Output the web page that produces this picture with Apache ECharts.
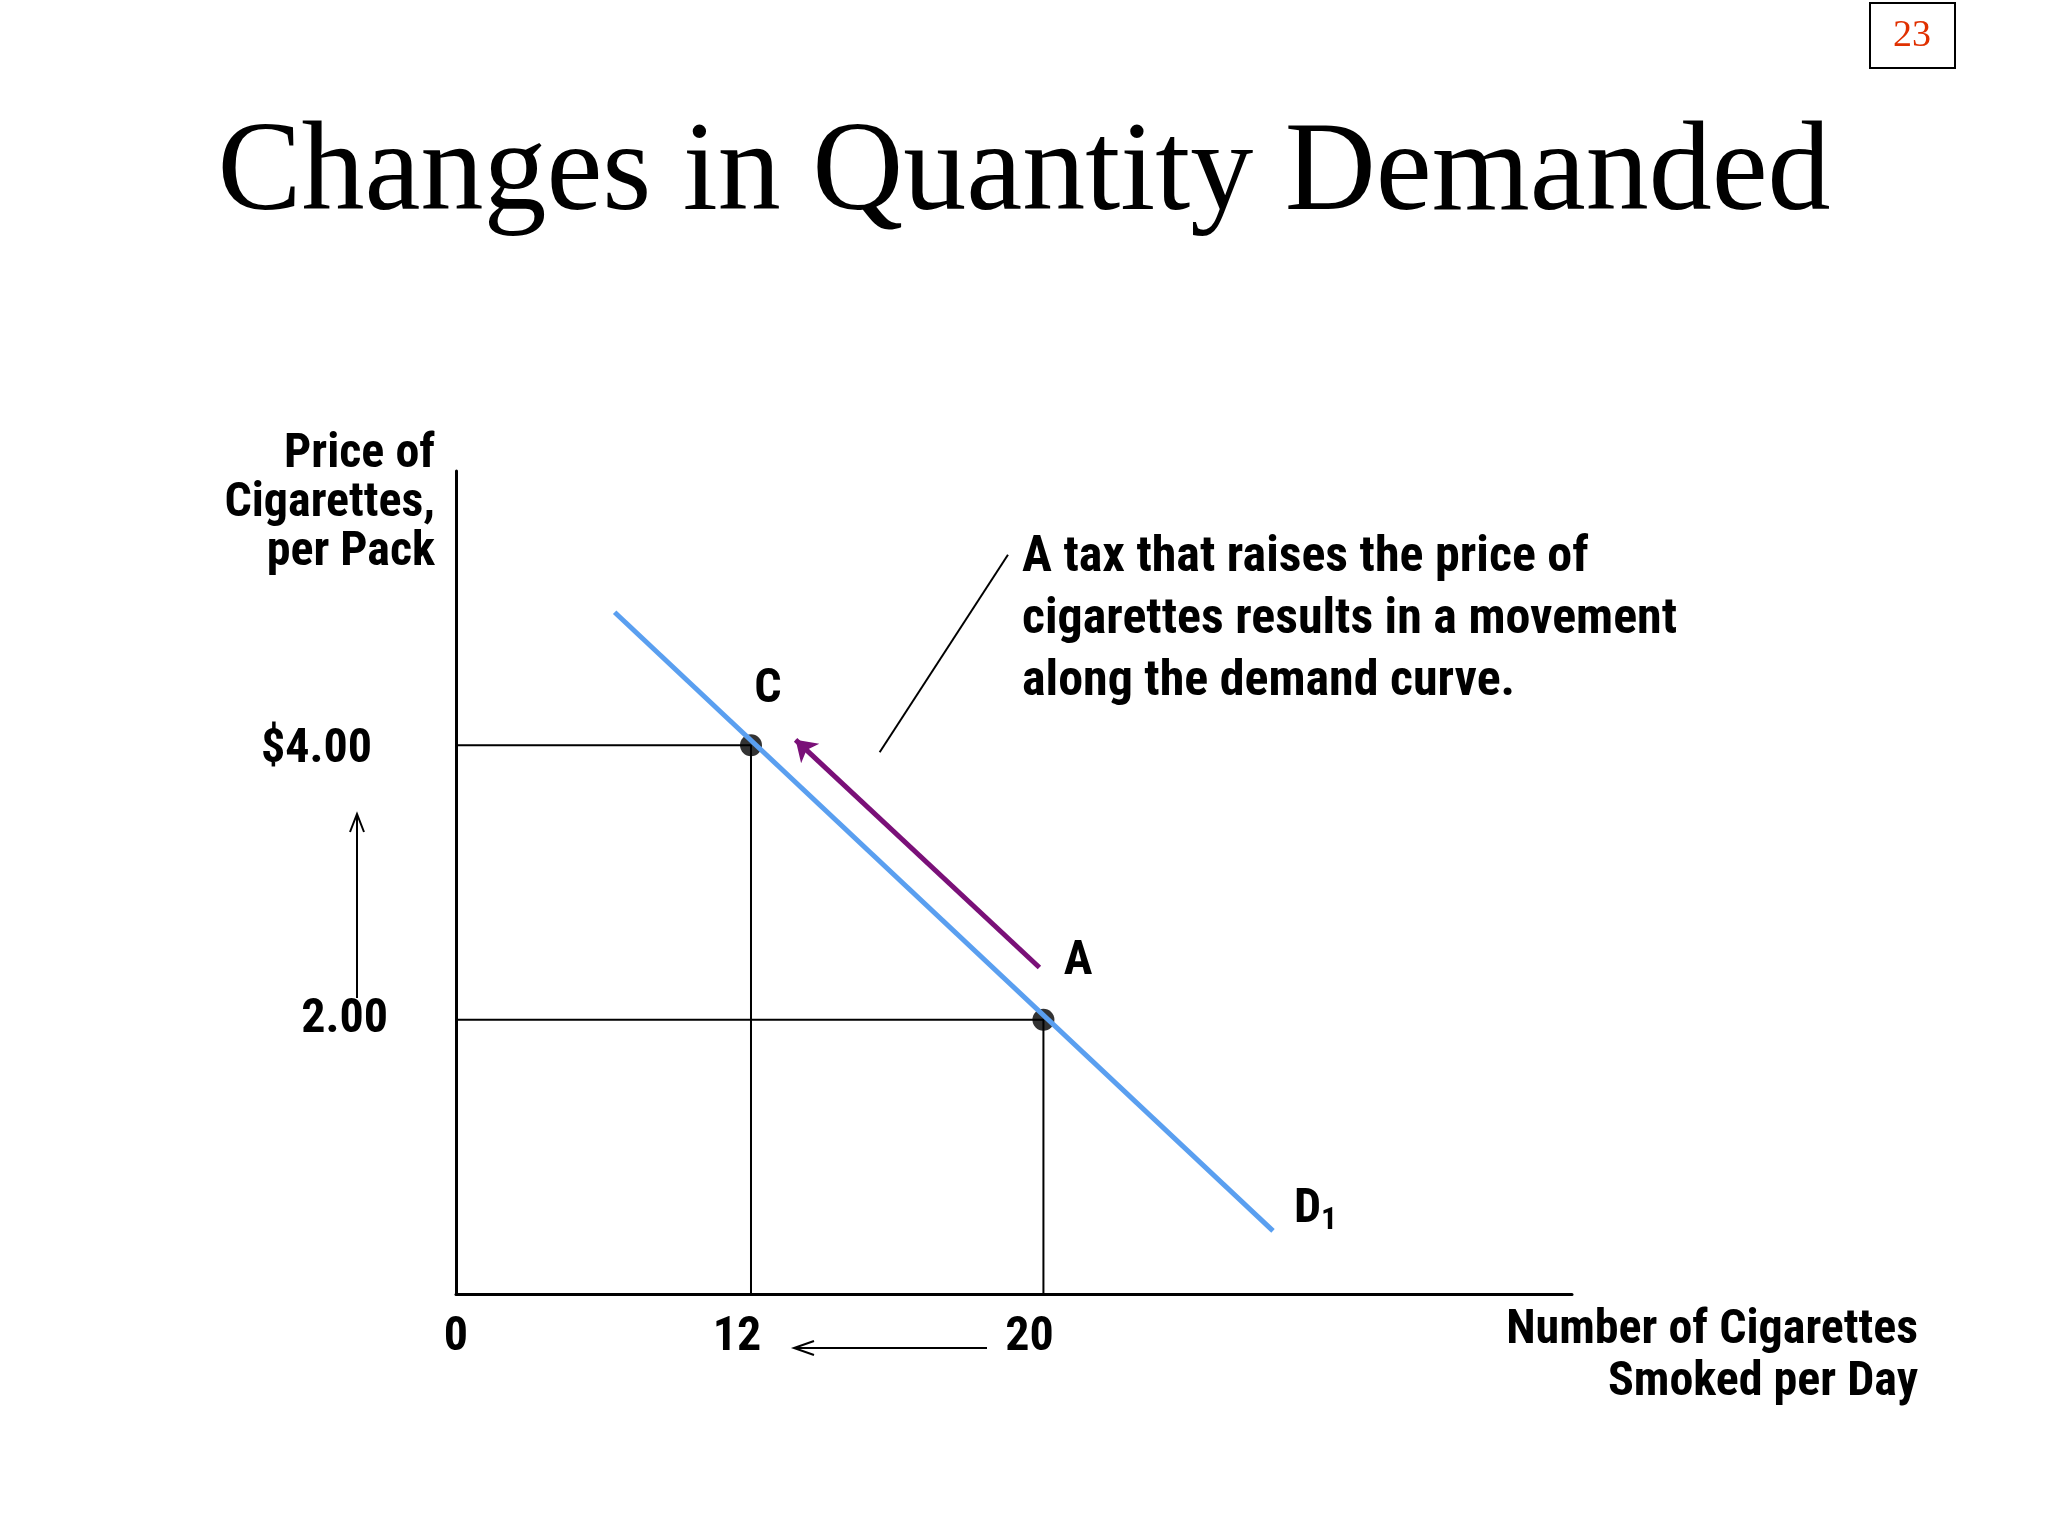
<!DOCTYPE html>
<html><head><meta charset="utf-8">
<script src="https://cdn.jsdelivr.net/npm/echarts@6/dist/echarts.min.js"></script>
<style>html,body{margin:0;padding:0;background:#fff}#c{width:2048px;height:1536px}</style>
</head><body><div id="c"></div>
<script>
const FONT = '"Liberation Sans Narrow","Roboto Condensed","Liberation Sans",Arial,sans-serif';
const xOrigin = 3.93;
const xTicks = [xOrigin, 12, 20];
const yTicks = [2, 4];
const demandCurve = [[8.27, 4.97], [26.28, 0.46]];
const pointC = [12, 4];
const pointA = [20, 2];
const moveArrow = [[19.89, 2.38], [13.22, 4.04]];
const leader = [[15.52, 3.95], [19.03, 5.39]];
const annotation = ['A tax that raises the price of', 'cigarettes results in a movement', 'along the demand curve.'];

const chart = echarts.init(document.getElementById('c'));
const guide = {color: '#000', width: 2};
chart.setOption({
  backgroundColor: '#fff',
  animation: false,
  grid: {left: 456, top: 471, right: 476, bottom: 242},
  xAxis: {type: 'value', min: xOrigin, max: 34.46, splitLine: {show: false},
    axisLine: {lineStyle: {color: '#000', width: 3}}, axisTick: {show: false},
    axisLabel: {customValues: xTicks, margin: 20, fontFamily: FONT, fontWeight: 'bold', fontSize: 48, color: '#000',
      padding: [0, 28, 0, 0], formatter: v => v < 5 ? '{z|0}' : String(v),
      rich: {z: {fontFamily: FONT, fontWeight: 'bold', fontSize: 48, color: '#000', padding: [0, 0, 0, 28]}}}},
  yAxis: {type: 'value', min: 0, max: 6, splitLine: {show: false},
    axisLine: {lineStyle: {color: '#000', width: 3}}, axisTick: {show: false},
    axisLabel: {customValues: yTicks, margin: 84, fontFamily: FONT, fontWeight: 'bold', fontSize: 48, color: '#000',
      formatter: v => v === 4 ? '{a|$4.00}' : '{b|2.00}',
      rich: {a: {fontFamily: FONT, fontWeight: 'bold', fontSize: 48, color: '#000', padding: [10, 0, 0, 0]},
             b: {fontFamily: FONT, fontWeight: 'bold', fontSize: 48, color: '#000', padding: [0, -16, 0, 0]}}}},
  series: [
    {type: 'line', data: [[xOrigin, pointC[1]], pointC, [pointC[0], 0]], symbol: 'none', lineStyle: guide},
    {type: 'line', data: [[xOrigin, pointA[1]], pointA, [pointA[0], 0]], symbol: 'none', lineStyle: guide},
    {type: 'line', data: demandCurve, symbol: 'none', lineStyle: {color: '#5a9ff0', width: 5}},
    {type: 'lines', coordinateSystem: 'cartesian2d', data: [{coords: moveArrow}], symbol: ['none', 'arrow'], symbolSize: 20,
      lineStyle: {color: '#7a1078', width: 5, opacity: 1}},
    {type: 'lines', coordinateSystem: 'cartesian2d', data: [{coords: leader}], symbol: 'none',
      lineStyle: {color: '#000', width: 2, opacity: 1}},
    {type: 'scatter', data: [pointC, pointA], symbol: 'circle', symbolSize: 22, itemStyle: {color: '#000'}}
  ],
  graphic: [
    {type: 'text', left: 'center', top: 113, style: {text: 'Changes in Quantity Demanded', font: '126px "Liberation Serif","Times New Roman",serif', fill: '#000'}},
    {type: 'rect', shape: {x: 1870, y: 3, width: 85, height: 65}, style: {fill: 'none', stroke: '#000', lineWidth: 2}},
    {type: 'text', x: 1912, y: 36, style: {text: '23', font: '38px "Liberation Serif",serif', fill: '#e03000', align: 'center', verticalAlign: 'middle'}},
    {type: 'text', x: 435, y: 430, style: {text: 'Price of\nCigarettes,\nper Pack', font: 'bold 48px ' + FONT, lineHeight: 49, fill: '#000', align: 'right'}},
    {type: 'text', x: 1918, y: 1305, style: {text: 'Number of Cigarettes\nSmoked per Day', font: 'bold 48px ' + FONT, lineHeight: 52, fill: '#000', align: 'right'}},
    {type: 'text', x: 1022, y: 527, style: {text: annotation.join('\n'), font: 'bold 50px ' + FONT, lineHeight: 62, fill: '#000'}},
    {type: 'text', x: 768, y: 690, style: {text: 'C', font: 'bold 48px ' + FONT, fill: '#000', align: 'center', verticalAlign: 'middle'}},
    {type: 'text', x: 1078, y: 962, style: {text: 'A', font: 'bold 48px ' + FONT, fill: '#000', align: 'center', verticalAlign: 'middle'}},
    {type: 'text', x: 1294, y: 1210, style: {text: '{d|D}{s|1}', rich: {d: {font: 'bold 48px ' + FONT, fill: '#000'}, s: {font: 'bold 32px ' + FONT, fill: '#000', padding: [22, 0, 0, 0]}}, verticalAlign: 'middle'}},
    {type: 'line', shape: {x1: 357, y1: 998, x2: 357, y2: 816}, style: {stroke: '#000', lineWidth: 2}},
    {type: 'polyline', shape: {points: [[350, 832], [357, 814], [364, 832]]}, style: {stroke: '#000', lineWidth: 2, fill: 'none'}},
    {type: 'line', shape: {x1: 987, y1: 1348, x2: 796, y2: 1348}, style: {stroke: '#000', lineWidth: 2}},
    {type: 'polyline', shape: {points: [[814, 1341], [794, 1348], [814, 1355]]}, style: {stroke: '#000', lineWidth: 2, fill: 'none'}}
  ]
});
</script></body></html>
